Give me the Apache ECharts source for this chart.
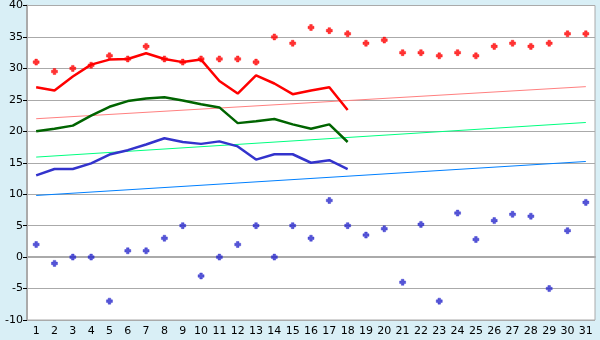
<!DOCTYPE html>
<html><head><meta charset="utf-8">
<script src="https://cdn.jsdelivr.net/npm/echarts@6/dist/echarts.min.js"></script>
<style>html,body{margin:0;padding:0;background:#d9eff6;}#c{width:600px;height:340px;}</style>
</head><body><div id="c"></div>
<script>
var days = ['1','2','3','4','5','6','7','8','9','10','11','12','13','14','15','16','17','18','19','20','21','22','23','24','25','26','27','28','29','30','31'];
var maxPoints = [31,29.5,30,30.5,32,31.5,33.5,31.5,31,31.5,31.5,31.5,31,35,34,36.5,36,35.5,34,34.5,32.5,32.5,32,32.5,32,33.5,34,33.5,34,35.5,35.5];
var minPoints = [2,-1,0,0,-7,1,1,3,5,-3,0,2,5,0,5,3,9,5,3.5,4.5,-4,5.2,-7,7,2.8,5.8,6.8,6.5,-5,4.2,8.7];
var maxLine = [27,26.5,28.7,30.6,31.4,31.5,32.4,31.5,31,31.4,28,26,28.9,27.6,25.9,26.5,27,23.4];
var avgLine = [20,20.4,20.9,22.5,23.9,24.8,25.2,25.4,24.9,24.3,23.8,21.3,21.6,21.95,21.1,20.4,21.1,18.3];
var minLine = [13,14,14,14.9,16.3,17,17.9,18.9,18.3,18,18.4,17.6,15.5,16.35,16.35,15,15.4,14];
var trendMax = [22, 27.1];
var trendAvg = [15.9, 21.4];
var trendMin = [9.8, 15.2];
var yTicks = {min: -10, max: 40, interval: 5};

var plus = 'path://M2,0H5V2H7V5H5V7H2V5H0V2H2Z';
function trend(v){ return [[0, v[0]], [days.length-1, v[1]]]; }
var chart = echarts.init(document.getElementById('c'), null, {renderer:'canvas'});
chart.setOption({
  backgroundColor: '#d9eff6',
  animation: false,
  textStyle: {fontFamily: 'DejaVu Sans'},
  grid: {left: 27, right: 5, top: 5, bottom: 20, show: true, backgroundColor: '#ffffff', borderColor: '#aaaaaa', borderWidth: 1},
  xAxis: {type: 'category', data: days, boundaryGap: true,
    axisLine: {lineStyle: {color: '#aaaaaa', width: 2}},
    axisTick: {alignWithLabel: true, length: 5, lineStyle: {color: '#000'}},
    axisLabel: {color: '#000', fontSize: 11, margin: 6, interval: 0},
    splitLine: {show: false}},
  yAxis: {type: 'value', min: yTicks.min, max: yTicks.max, interval: yTicks.interval,
    axisLine: {show: true, lineStyle: {color: '#aaaaaa', width: 2}},
    axisTick: {show: true, length: 4, lineStyle: {color: '#000'}},
    axisLabel: {color: '#000', fontSize: 11, margin: 4},
    splitLine: {lineStyle: {color: '#aaaaaa', width: 1}}},
  series: [
    {type:'line', data: trend(trendMax), symbol:'none', lineStyle:{color:'#ff8080', width:1}, z:1},
    {type:'line', data: trend(trendAvg), symbol:'none', lineStyle:{color:'#00ff80', width:1}, z:1},
    {type:'line', data: trend(trendMin), symbol:'none', lineStyle:{color:'#0080ff', width:1}, z:1},
    {type:'line', data: maxLine, symbol:'none', lineStyle:{color:'#ff0000', width:2.5}, z:2},
    {type:'line', data: avgLine, symbol:'none', lineStyle:{color:'#006400', width:2.5}, z:2},
    {type:'line', data: minLine, symbol:'none', lineStyle:{color:'#3333cc', width:2.5}, z:2},
    {type:'scatter', data: maxPoints, symbol: plus, symbolSize: 6, itemStyle:{color:'#ff0000', borderColor:'#ff0000', borderWidth:0.5}, z:3},
    {type:'scatter', data: minPoints, symbol: plus, symbolSize: 6, itemStyle:{color:'#2a2acc', borderColor:'#2a2acc', borderWidth:0.5}, z:3}
  ]
});
</script></body></html>
